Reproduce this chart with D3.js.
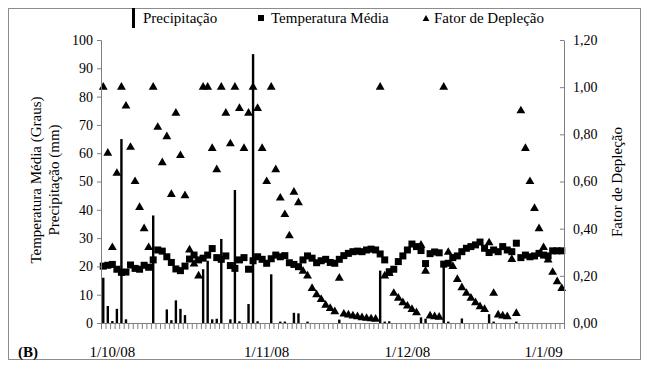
<!DOCTYPE html>
<html lang="pt">
	<head>
		<meta charset="utf-8">
		<title>Precipitação, temperatura e fator de depleção</title>
		<script src="https://d3js.org/d3.v7.min.js"></script>
		<style type="text/css">
			body { margin: 0; background: #fff; }
			svg text { font-family: "Times New Roman", "Liberation Serif", "DejaVu Serif", serif !important; fill: #000; }
		</style>
	</head>

	<body>
		<script type="text/javascript">
			var w = 650
			var h = 368
			var serif = "'Times New Roman', 'Liberation Serif', serif"

			// one value per day, from 1/10/08 on
			var precipitacao = [16, 6, 0.7, 5, 65, 1.3, 0, 0, 0, 0, 0, 38, 0, 0, 4.8, 1, 8, 5, 2.8, 0,
				0, 0, 19, 22, 1.3, 1.5, 29.7, 0, 1.3, 47, 0.6, 0, 6.7, 95, 0.6, 0, 0, 17.2, 0, 0.5,
				0.5, 0, 3.6, 3.4, 0, 0.5, 0, 0, 0, 0, 0, 0, 1.2, 0, 0, 0, 0, 0, 0, 0,
				0, 18.5, 0.5, 0.6, 0, 0, 0, 0, 0, 0, 2, 1.5, 0, 0, 0, 21, 0.5, 0, 0, 1.6,
				0, 0, 0, 0, 0, 3.1, 0.5, 0, 0, 0, 0, 0.5, 0, 0, 0, 0, 0, 0, 0, 0,
				0, 0]

			var temperatura = [20.1, 20.4, 20.7, 19.0, 17.9, 18.0, 20.5, 19.3, 19.0, 20.4,
				19.7, 22.3, 25.8, 25.4, 23.4, 21.4, 19.1, 18.5, 20.1, 22.6,
				24.0, 22.3, 22.9, 24.0, 26.3, 23.1, 22.5, 23.7, 20.3, 19.3,
				22.3, 23.1, 19.0, 22.0, 23.4, 22.5, 21.1, 22.7, 24.0, 23.4,
				23.8, 21.3, 20.7, 19.9, 22.3, 23.7, 22.9, 21.3, 22.0, 22.5,
				21.4, 21.1, 22.5, 23.8, 24.6, 25.2, 25.4, 25.2, 25.8, 26.1,
				25.8, 24.4, 22.3, 18.1, 19.0, 21.7, 23.7, 25.8, 27.9, 27.0,
				25.6, 21.0, 24.5, 25.1, 24.8, 20.8, 21.1, 23.1, 23.7, 25.2,
				26.4, 27.0, 27.6, 28.6, 26.4, 24.9, 25.8, 25.2, 27.0, 25.8,
				25.2, 28.2, 23.1, 24.0, 23.4, 23.7, 24.6, 24.0, 23.7, 25.5,
				25.5, 25.5]

			var fator = [1.00, 0.72, 0.32, 0.635, 1.00, 0.92, 0.745, 0.60, 0.49, 0.40,
				0.32, 1.00, 0.83, 0.68, 0.79, 0.545, 0.89, 0.71, 0.54, 0.31,
				0.25, 0.20, 1.00, 1.00, 0.74, 0.65, 1.00, 0.89, 0.76, 1.00,
				0.91, 0.74, 0.89, 1.00, 0.91, 0.74, 0.60, 1.00, 0.65, 0.53,
				0.46, 0.37, 0.555, 0.51, 0.22, 0.20, 0.147, 0.12, 0.10, 0.076,
				0.062, 0.048, 0.19, 0.038, 0.034, 0.030, 0.027, 0.023, 0.020, 0.018,
				0.016, 1.00, 0.20, 0.21, 0.126, 0.105, 0.086, 0.072, 0.058, 0.044,
				0.33, 0.22, 0.030, 0.027, 0.025, 1.00, 0.30, 0.24, 0.185, 0.15,
				0.126, 0.105, 0.086, 0.069, 0.058, 0.34, 0.126, 0.034, 0.030, 0.027,
				0.27, 0.041, 0.90, 0.74, 0.60, 0.486, 0.40, 0.32, 0.267, 0.215,
				0.175, 0.147]

			// date labels and the day they sit under
			var dateLabels = ["1/10/08", "1/11/08", "1/12/08", "1/1/09"]
			var dateLabelDays = [2, 36, 67, 97]

			var leftTicks = [0, 10, 20, 30, 40, 50, 60, 70, 80, 90, 100]
			var rightTicks = [0, 0.2, 0.4, 0.6, 0.8, 1.0, 1.2]

			var days = d3.range(precipitacao.length)

			// scales
			var x = d3.scaleBand().domain(days).range([101, 564]).padding(0)
			var yL = d3.scaleLinear().domain([0, 100]).range([323, 40])
			var yR = d3.scaleLinear().domain([0, 1.2]).range([323, 40])
			var fmt = function(d) { return d3.format(".2f")(d).replace(".", ",") }

			var svg = d3.select("body")
						.append("svg")
						.attr("width", w)
						.attr("height", h)
						.style("font-family", serif)

			// outer frame
			svg.append("rect")
				.attr("x", 8.5).attr("y", 8.5)
				.attr("width", 632).attr("height", 351)
				.style("fill", "none")
				.style("stroke", "#8c8c8c")
				.style("stroke-width", 1)

			// precipitation bars
			svg.selectAll("rect.bar")
				.data(days.filter(function(i) { return precipitacao[i] > 0 }))
				.enter()
				.append("rect")
				.attr("class", "bar")
				.attr("x", function(i) { return x(i) + x.bandwidth() / 2 - 1.2 })
				.attr("width", 2.4)
				.attr("y", function(i) { return yL(precipitacao[i]) })
				.attr("height", function(i) { return yL(0) - yL(precipitacao[i]) })
				.style("fill", "#000")

			// temperature squares
			svg.selectAll("rect.temp")
				.data(days)
				.enter()
				.append("rect")
				.attr("class", "temp")
				.attr("x", function(i) { return x(i) + x.bandwidth() / 2 - 3.5 })
				.attr("y", function(i) { return yL(temperatura[i]) - 3.5 })
				.attr("width", 7)
				.attr("height", 7)
				.style("fill", "#000")

			// depletion triangles
			var tri = d3.symbol().type(d3.symbolTriangle).size(34)
			svg.selectAll("path.fator")
				.data(days)
				.enter()
				.append("path")
				.attr("class", "fator")
				.attr("d", tri)
				.attr("transform", function(i) {
					return "translate(" + (x(i) + x.bandwidth() / 2) + "," + yR(fator[i]) + ")"
				})
				.style("fill", "#000")

			// left axis
			var gL = svg.append("g").attr("transform", "translate(101,0)")
			gL.call(d3.axisLeft(yL).tickValues(leftTicks).tickSize(4).tickPadding(4).tickFormat(d3.format("d")))
			gL.attr("font-family", null)
			gL.select(".domain").style("stroke", "#7f7f7f")
			gL.selectAll(".tick line").style("stroke", "#7f7f7f")
			gL.selectAll("text").style("font-size", "14px")

			// right axis, ticks pointing in
			var gR = svg.append("g").attr("transform", "translate(564,0)")
			gR.call(d3.axisRight(yR).tickValues(rightTicks).tickSizeInner(-4).tickSizeOuter(0).tickPadding(9).tickFormat(fmt))
			gR.attr("font-family", null)
			gR.select(".domain").style("stroke", "#7f7f7f")
			gR.selectAll(".tick line").style("stroke", "#7f7f7f")
			gR.selectAll("text").style("font-size", "14px")

			// bottom axis: one tick per day
			var gB = svg.append("g")
			gB.append("line")
				.attr("x1", 101).attr("x2", 564)
				.attr("y1", 323.5).attr("y2", 323.5)
				.style("stroke", "#7f7f7f")
			gB.selectAll("line.tick")
				.data(days.concat([days.length]))
				.enter()
				.append("line")
				.attr("class", "tick")
				.attr("x1", function(i) { return (i < days.length ? x(i) : 564) + 0.5 })
				.attr("x2", function(i) { return (i < days.length ? x(i) : 564) + 0.5 })
				.attr("y1", 323).attr("y2", 329)
				.style("stroke", "#7f7f7f")

			svg.selectAll("text.date")
				.data(dateLabels)
				.enter()
				.append("text")
				.attr("class", "date")
				.attr("x", function(d, k) { return x(dateLabelDays[k]) + x.bandwidth() / 2 })
				.attr("y", 357)
				.attr("text-anchor", "middle")
				.style("font-size", "15px")
				.text(function(d) { return d })

			svg.append("text")
				.attr("x", 18).attr("y", 357)
				.style("font-size", "15px")
				.style("font-weight", "bold")
				.text("(B)")

			// axis titles
			svg.append("text")
				.attr("transform", "translate(41,180) rotate(-90)")
				.attr("text-anchor", "middle")
				.style("font-size", "15px")
				.text("Temperatura Média (Graus)")
			svg.append("text")
				.attr("transform", "translate(59,180) rotate(-90)")
				.attr("text-anchor", "middle")
				.style("font-size", "15px")
				.text("Precipitação (mm)")
			svg.append("text")
				.attr("transform", "translate(622,182) rotate(-90)")
				.attr("text-anchor", "middle")
				.style("font-size", "15px")
				.text("Fator de Depleção")

			// legend
			var lg = svg.append("g")
			lg.append("rect").attr("x", 132).attr("y", 8).attr("width", 3).attr("height", 20).style("fill", "#000")
			lg.append("text").attr("x", 143).attr("y", 23).style("font-size", "15px").text("Precipitação")
			lg.append("rect").attr("x", 258).attr("y", 15).attr("width", 6).attr("height", 6).style("fill", "#000")
			lg.append("text").attr("x", 271).attr("y", 23).style("font-size", "15px").text("Temperatura Média")
			lg.append("path").attr("d", d3.symbol().type(d3.symbolTriangle).size(20))
				.attr("transform", "translate(426,19)").style("fill", "#000")
			lg.append("text").attr("x", 434).attr("y", 23).style("font-size", "15px").text("Fator de Depleção")
		</script>
	</body>
</html>
